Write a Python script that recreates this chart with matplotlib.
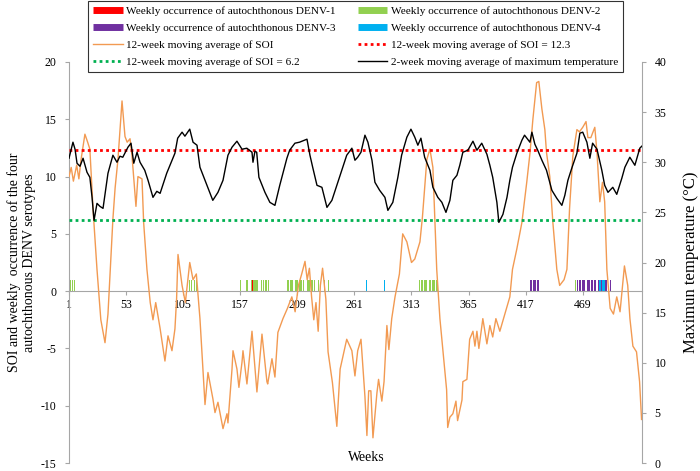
import numpy as np
import matplotlib.pyplot as plt
from matplotlib.lines import Line2D

plt.rcParams['font.family'] = ['Liberation Serif', 'DejaVu Serif']
plt.rcParams['axes.unicode_minus'] = False

# 12-week moving average of SOI (week, value)
soi_weeks = [1, 3, 5, 8, 10, 12, 15.5, 18, 20, 23, 26.5, 30, 33.8, 36.5, 41, 43, 45.6, 49.3,
             52, 54, 56.6, 58.4, 62, 63.8, 67.5, 69, 72, 75, 77.5, 80, 83.9, 88.4, 91.2, 94.8,
             97.5, 99, 100.3, 104, 107, 111, 114, 117, 120.3, 124.9, 127.6, 132.1, 134, 136.7,
             141.3, 144.9, 145.8, 149.5, 150.4, 154, 155.8, 158.6, 159.5, 163.1, 167.7, 172.2,
             176.8, 181.3, 182, 185.9, 188.6, 191.3, 195.9, 200, 204, 207, 210, 213, 216, 218,
             220, 222, 224, 226, 228, 230, 232, 235, 237, 241, 245, 248, 254, 258.7, 261.5, 264,
             267, 270.6, 272.4, 274, 276, 277.9, 281.5, 283, 286, 288, 290.6, 292.4, 295, 298,
             302, 305, 308.8, 313, 316, 320.7, 323, 327, 329.8, 332.5, 336, 338.9, 345, 346,
             348, 350.7, 353.5, 355, 359, 359.8, 363.5, 366, 369, 370.8, 372.6, 374.4, 378,
             381.7, 384.4, 387, 389.9, 393.5, 398, 402.6, 405, 409, 413.6, 418, 421, 423.6, 427,
             429, 431.8, 434.5, 436, 439, 441.8, 445.4, 448, 452, 454.6, 457, 460, 463.7, 466,
             469, 472, 473.7, 476.4, 480, 482, 484.6, 487, 489, 491, 494, 497, 500, 503, 507,
             510, 512, 514.7, 518, 520.8, 522.6]
soi_vals = [10.0, 10.8, 9.6, 11.0, 9.8, 11.5, 13.7, 13.0, 12.4, 7.0, 1.9, -2.5, -4.5, -2.0,
            6.3, 9.0, 11.5, 16.6, 13.5, 13.0, 13.3, 11.8, 7.4, 10.0, 9.8, 6.0, 1.9, -1.0, -2.5,
            -1.0, -3.2, -6.1, -3.9, -5.2, -3.3, -0.7, 3.2, 0.5, -1.0, 2.5, 1.0, 1.5, -2.4, -9.9,
            -7.1, -9.4, -10.6, -9.7, -12.0, -10.7, -11.5, -6.8, -5.2, -6.8, -8.4, -6.2, -5.2,
            -8.1, -3.5, -8.8, -3.75, -7.9, -8.1, -5.9, -7.5, -3.6, -2.4, -1.5, -0.5, -1.8, 0.5,
            1.5, 2.6, 1.0, 2.0, -0.5, -2.5, -1.0, -3.5, 0.5, 2.0, -0.7, -5.3, -8.0, -11.8, -6.8,
            -4.2, -5.2, -7.4, -5.2, -4.2, -9.2, -12.6, -8.7, -8.7, -12.8, -8.9, -7.7, -9.6,
            -7.9, -3.0, -5.1, -2.4, -0.5, 1.5, 5.0, 4.3, 2.5, 2.8, 4.3, 6.5, 11.5, 12.4, 10.8,
            1.9, -2.4, -8.6, -11.9, -11.0, -10.7, -9.6, -11.3, -9.5, -7.9, -7.7, -4.2, -3.5,
            -4.8, -3.5, -5.0, -2.4, -4.6, -3.0, -4.0, -2.4, -3.5, -2.0, -0.5, 1.9, 3.7, 6.0,
            9.5, 12.1, 15.0, 18.2, 18.3, 15.9, 14.1, 12.1, 10.0, 6.0, 1.9, 0.5, 1.0, 1.9, 7.2,
            11.8, 14.1, 13.9, 14.3, 14.8, 13.4, 13.4, 14.3, 12.1, 7.8, 9.5, 7.8, 1.9, -1.5,
            -2.0, -0.5, -1.8, 2.2, 0.5, -2.4, -4.8, -5.3, -7.9, -11.2]

# 2-week moving average of maximum temperature (week, degC)
temp_weeks = [1, 4.6, 6.5, 8.3, 11, 13.8, 17.4, 20, 22, 23.8, 26.5, 29.2, 32, 36.5, 41, 44.7,
              47.4, 50, 54.7, 57.5, 60, 63, 65.7, 70, 73, 77.5, 81, 84, 90, 97.5, 100, 104,
              106.6, 111, 114, 117.6, 120.3, 126.7, 132, 136.7, 141.3, 145.8, 149.5, 154, 158.6,
              163, 167.7, 168.6, 170.4, 172, 174, 179.5, 184, 188.6, 193, 199.5, 202, 206.8, 211,
              217.8, 220.5, 223, 226.9, 231.4, 236, 240.5, 245, 249.6, 254, 258.7, 261.5, 264,
              267, 270.6, 273.3, 277, 279.7, 284, 288.8, 291.5, 296, 300.6, 304, 308.8, 312.5,
              316, 318.8, 321.6, 325, 329.8, 332.5, 337, 340.7, 344.4, 348, 350.7, 354.4, 357,
              359.8, 364.4, 369, 372.6, 377, 381.7, 384.4, 387, 390.8, 392.6, 396.3, 400, 402.6,
              405, 409, 413.6, 416, 420.9, 422.7, 425.4, 428, 431.8, 436, 440.9, 445.4, 450,
              452.7, 455.5, 459, 463.7, 466.4, 469, 472.8, 475.5, 478, 482, 486.4, 489, 492,
              496.4, 500, 504.6, 507.4, 511.9, 516.5, 521, 522.8]
temp_vals = [30.4, 32.0, 31.3, 29.9, 29.6, 30.4, 29.0, 28.5, 26.5, 24.2, 25.9, 25.6, 25.4,
             28.9, 30.7, 30.0, 30.6, 30.5, 31.5, 31.9, 29.9, 31.0, 30.0, 29.2, 28.2, 26.5, 27.1,
             26.9, 28.9, 30.9, 32.4, 33.0, 32.6, 33.3, 32.0, 31.7, 29.5, 27.7, 26.2, 27.0, 28.2,
             30.7, 31.5, 32.1, 31.3, 31.4, 31.0, 30.0, 31.1, 31.0, 28.5, 27.0, 26.0, 25.7, 27.7,
             30.4, 31.2, 31.9, 32.0, 32.3, 30.7, 29.5, 27.7, 27.5, 25.5, 26.2, 27.7, 29.2, 30.7,
             31.4, 30.2, 30.5, 31.0, 32.7, 32.0, 30.2, 28.0, 27.2, 26.5, 25.2, 26.0, 28.5, 30.7,
             32.5, 33.3, 32.5, 31.7, 32.4, 30.5, 29.2, 27.5, 26.5, 26.0, 25.0, 26.2, 28.2, 28.7,
             29.7, 31.0, 31.2, 32.1, 31.2, 31.9, 30.8, 29.7, 28.5, 26.0, 24.0, 24.8, 26.5, 28.2,
             29.5, 30.9, 32.2, 32.7, 32.0, 33.0, 31.8, 31.2, 30.2, 29.2, 27.2, 26.4, 25.7, 26.7,
             28.2, 29.4, 30.9, 32.9, 33.0, 32.0, 30.4, 31.9, 31.3, 29.2, 27.7, 27.0, 27.5, 26.8,
             28.4, 29.5, 30.5, 29.7, 31.4, 31.6]

# weeks with autochthonous cases of each serotype
denv1_weeks = [168]
denv2_weeks = [2, 4, 6, 111, 113, 115, 117, 157, 163, 164, 165, 167, 169, 170, 171, 172, 173,
               175, 176, 178, 180, 181, 183, 185, 200, 201, 203, 204, 205, 207, 208, 209, 211,
               212, 213, 215, 216, 218, 219, 220, 222, 223, 225, 226, 228, 234, 237, 320, 322,
               323, 325, 326, 327, 329, 330, 332, 333, 334, 336, 337, 339, 462]
denv3_weeks = [421, 422, 424, 425, 426, 428, 429, 431, 464, 466, 467, 469, 470, 471, 473, 474,
               475, 477, 478, 480, 481, 483, 486, 490, 491, 492, 494]
denv4_weeks = [124, 272, 288, 482, 484, 485, 487, 488, 489]

soi_high = 12.3
soi_low = 6.2
week_ticks = list(range(1, 470, 52))

c_red, c_green, c_purple, c_blue = '#FF0000', '#92D050', '#7030A0', '#00B0F0'
c_orange = '#F29A52'
grey = '#A6A6A6'

fig = plt.figure(figsize=(7, 4.71), dpi=100)
ax = fig.add_axes([69 / 700, 8 / 471, 573 / 700, 401 / 471])

for weeks, col in [(denv1_weeks, c_red), (denv2_weeks, c_green),
                   (denv3_weeks, c_purple), (denv4_weeks, c_blue)]:
    ax.bar(weeks, 1, width=0.85, color=col, linewidth=0, zorder=2)

ax.plot(soi_weeks, soi_vals, color=c_orange, lw=1, zorder=3)
ax.axhline(soi_high, color=c_red, ls=(0, (1, 1.2)), lw=2, zorder=4)
ax.axhline(soi_low, color='#00B050', ls=(0, (1, 1.2)), lw=2, zorder=4)

ax.set_xlim(1, 523)
ax.set_ylim(-15, 20)
ax.set_yticks(range(-15, 21, 5))
ax.set_xticks(week_ticks)

ax.spines['top'].set_visible(False)
ax.spines['right'].set_visible(False)
ax.spines['bottom'].set_position(('data', 0))
ax.spines['bottom'].set_color(grey)
ax.spines['left'].set_color(grey)
ax.tick_params(axis='both', colors=grey, labelcolor='black', labelsize=8.5, length=3, pad=3)
ax.tick_params(axis='y', pad=6)

ax.set_ylabel('SOI and weekly  occurrence of the four\nautochthonous DENV serotypes', fontsize=10)
ax.yaxis.set_label_coords(-0.058, 0.5)
ax.set_xlabel('Weeks', fontsize=10)
ax.xaxis.set_label_coords(0.518, 0.03)

ax2 = ax.twinx()
ax2.plot(temp_weeks, temp_vals, color='black', lw=1, zorder=3)
ax2.set_ylim(0, 40)
ax2.set_yticks(range(0, 41, 5))
for s in ['top', 'bottom', 'left']:
    ax2.spines[s].set_visible(False)
ax2.spines['right'].set_color(grey)
ax2.tick_params(axis='y', colors=grey, labelcolor='black', labelsize=8.5, length=3, pad=6)
ax2.set_ylabel('Maximun temperature (\u00b0C)', fontsize=12)
ax2.yaxis.set_label_coords(1.072, 0.5)

# legend, filled column by column
dot = (0, (1, 1.2))
handles = [
    Line2D([], [], color=c_red, lw=5, solid_capstyle='butt'),
    Line2D([], [], color=c_purple, lw=5, solid_capstyle='butt'),
    Line2D([], [], color=c_orange, lw=1),
    Line2D([], [], color='#00B050', lw=2, ls=dot),
    Line2D([], [], color=c_green, lw=5, solid_capstyle='butt'),
    Line2D([], [], color=c_blue, lw=5, solid_capstyle='butt'),
    Line2D([], [], color=c_red, lw=2, ls=dot),
    Line2D([], [], color='black', lw=1),
]
labels = [
    'Weekly occurrence of autochthonous DENV-1',
    'Weekly occurrence of autochthonous DENV-3',
    '12-week moving average of SOI',
    '12-week moving average of SOI = 6.2',
    'Weekly occurrence of autochthonous DENV-2',
    'Weekly occurrence of autochthonous DENV-4',
    '12-week moving average of SOI = 12.3',
    '2-week moving average of maximum temperature',
]
leg = fig.legend(handles, labels, ncol=2, loc='upper left', bbox_to_anchor=(88 / 700, 1 - 1 / 471),
                 fontsize=8.15, frameon=True, fancybox=False, edgecolor='black',
                 handlelength=2.6, handletextpad=0.3, columnspacing=2.0, labelspacing=0.62,
                 borderpad=0.45, borderaxespad=0)
leg.get_frame().set_linewidth(0.8)

fig.savefig('out.png', dpi=100)
